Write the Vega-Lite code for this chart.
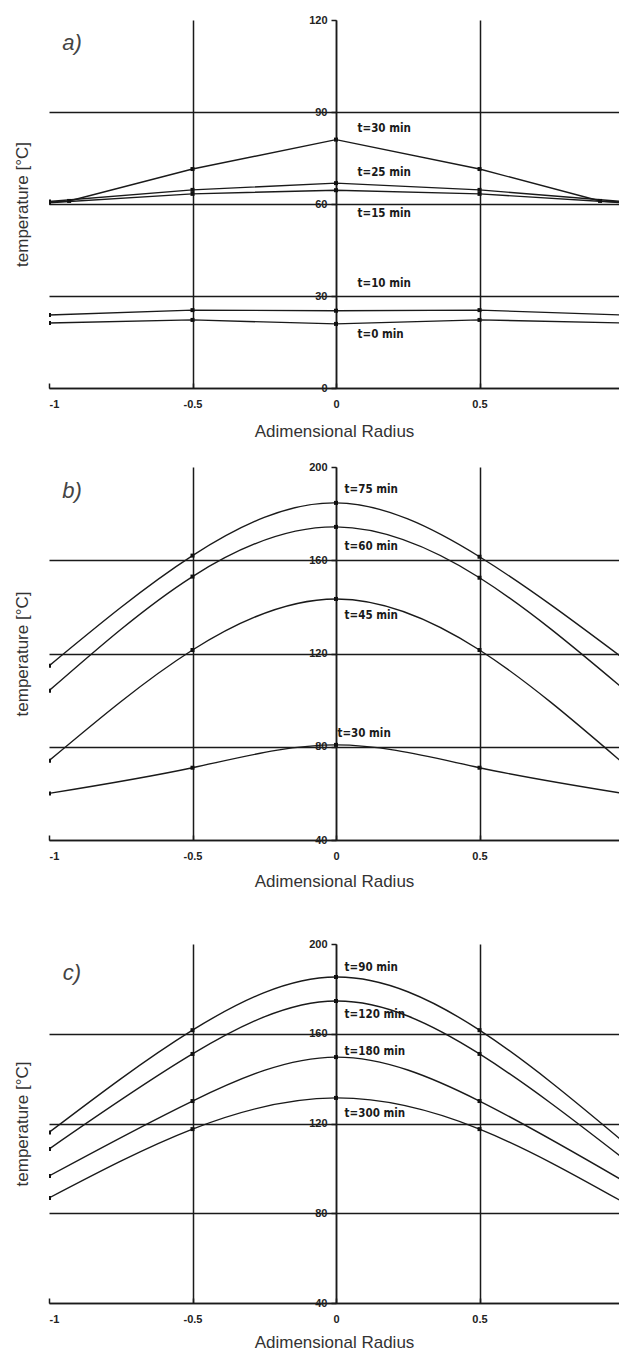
{
  "$schema": "https://vega.github.io/schema/vega-lite/v6.json",
  "background": "white",
  "padding": {"left": 13, "top": 14, "right": 0, "bottom": 0},
  "config": {
    "view": {"stroke": null},
    "font": "Liberation Sans",
    "axis": {
      "domainColor": "#1a1a1a",
      "domainWidth": 1.5,
      "gridColor": "#1a1a1a",
      "gridWidth": 1.5,
      "tickColor": "#1a1a1a",
      "tickWidth": 1.5,
      "labelFont": "Liberation Sans",
      "labelFontWeight": "bold",
      "labelFontSize": 11,
      "labelColor": "#222222",
      "titleFont": "Liberation Sans",
      "titleFontWeight": "normal",
      "titleFontSize": 17,
      "titleColor": "#333333"
    }
  },
  "datasets": {
    "profiles": [
      {"panel": "a", "time": 0, "r": -1, "temp": 21.2},
      {"panel": "a", "time": 0, "r": -0.5, "temp": 22.2},
      {"panel": "a", "time": 0, "r": 0, "temp": 20.9},
      {"panel": "a", "time": 0, "r": 0.5, "temp": 22.2},
      {"panel": "a", "time": 0, "r": 1, "temp": 21.2},
      {"panel": "a", "time": 10, "r": -1, "temp": 23.8},
      {"panel": "a", "time": 10, "r": -0.5, "temp": 25.4},
      {"panel": "a", "time": 10, "r": 0, "temp": 25.2},
      {"panel": "a", "time": 10, "r": 0.5, "temp": 25.4},
      {"panel": "a", "time": 10, "r": 1, "temp": 23.8},
      {"panel": "a", "time": 15, "r": -1, "temp": 60.4},
      {"panel": "a", "time": 15, "r": -0.5, "temp": 63.3},
      {"panel": "a", "time": 15, "r": 0, "temp": 64.5},
      {"panel": "a", "time": 15, "r": 0.5, "temp": 63.3},
      {"panel": "a", "time": 15, "r": 1, "temp": 60.4},
      {"panel": "a", "time": 25, "r": -1, "temp": 60.8},
      {"panel": "a", "time": 25, "r": -0.5, "temp": 64.6},
      {"panel": "a", "time": 25, "r": 0, "temp": 66.8},
      {"panel": "a", "time": 25, "r": 0.5, "temp": 64.6},
      {"panel": "a", "time": 25, "r": 1, "temp": 60.8},
      {"panel": "a", "time": 30, "r": -1, "temp": 60.6},
      {"panel": "a", "time": 30, "r": -0.93, "temp": 61},
      {"panel": "a", "time": 30, "r": -0.5, "temp": 71.4},
      {"panel": "a", "time": 30, "r": 0, "temp": 81},
      {"panel": "a", "time": 30, "r": 0.5, "temp": 71.4},
      {"panel": "a", "time": 30, "r": 0.92, "temp": 61},
      {"panel": "a", "time": 30, "r": 1, "temp": 60.6},

      {"panel": "b", "time": 30, "r": -1, "temp": 60},
      {"panel": "b", "time": 30, "r": -0.5, "temp": 71},
      {"panel": "b", "time": 30, "r": 0, "temp": 80.8},
      {"panel": "b", "time": 30, "r": 0.5, "temp": 71},
      {"panel": "b", "time": 30, "r": 1, "temp": 60},
      {"panel": "b", "time": 45, "r": -1, "temp": 74},
      {"panel": "b", "time": 45, "r": -0.5, "temp": 121.5},
      {"panel": "b", "time": 45, "r": 0, "temp": 143.4},
      {"panel": "b", "time": 45, "r": 0.5, "temp": 121.5},
      {"panel": "b", "time": 45, "r": 1, "temp": 73},
      {"panel": "b", "time": 60, "r": -1, "temp": 104},
      {"panel": "b", "time": 60, "r": -0.5, "temp": 153},
      {"panel": "b", "time": 60, "r": 0, "temp": 174.3},
      {"panel": "b", "time": 60, "r": 0.5, "temp": 152.5},
      {"panel": "b", "time": 60, "r": 1, "temp": 105},
      {"panel": "b", "time": 75, "r": -1, "temp": 114.7},
      {"panel": "b", "time": 75, "r": -0.5, "temp": 162},
      {"panel": "b", "time": 75, "r": 0, "temp": 184.6},
      {"panel": "b", "time": 75, "r": 0.5, "temp": 161.5},
      {"panel": "b", "time": 75, "r": 1, "temp": 118},

      {"panel": "c", "time": 90, "r": -1, "temp": 116},
      {"panel": "c", "time": 90, "r": -0.5, "temp": 161.6},
      {"panel": "c", "time": 90, "r": 0, "temp": 185.3},
      {"panel": "c", "time": 90, "r": 0.5, "temp": 161.6},
      {"panel": "c", "time": 90, "r": 1, "temp": 112},
      {"panel": "c", "time": 120, "r": -1, "temp": 108.6},
      {"panel": "c", "time": 120, "r": -0.5, "temp": 151},
      {"panel": "c", "time": 120, "r": 0, "temp": 174.6},
      {"panel": "c", "time": 120, "r": 0.5, "temp": 151},
      {"panel": "c", "time": 120, "r": 1, "temp": 104.5},
      {"panel": "c", "time": 180, "r": -1, "temp": 96.6},
      {"panel": "c", "time": 180, "r": -0.5, "temp": 130},
      {"panel": "c", "time": 180, "r": 0, "temp": 149.6},
      {"panel": "c", "time": 180, "r": 0.5, "temp": 130},
      {"panel": "c", "time": 180, "r": 1, "temp": 94.5},
      {"panel": "c", "time": 300, "r": -1, "temp": 86.8},
      {"panel": "c", "time": 300, "r": -0.5, "temp": 117.5},
      {"panel": "c", "time": 300, "r": 0, "temp": 131.4},
      {"panel": "c", "time": 300, "r": 0.5, "temp": 117.5},
      {"panel": "c", "time": 300, "r": 1, "temp": 85}
    ],
    "curveLabels": [
      {"panel": "a", "label": "t=30 min", "r": 0.075, "temp": 84.5},
      {"panel": "a", "label": "t=25 min", "r": 0.075, "temp": 70.1},
      {"panel": "a", "label": "t=15 min", "r": 0.075, "temp": 56.7},
      {"panel": "a", "label": "t=10 min", "r": 0.075, "temp": 33.9},
      {"panel": "a", "label": "t=0 min", "r": 0.075, "temp": 17.3},
      {"panel": "b", "label": "t=75 min", "r": 0.03, "temp": 190.1},
      {"panel": "b", "label": "t=60 min", "r": 0.03, "temp": 165.7},
      {"panel": "b", "label": "t=45 min", "r": 0.03, "temp": 136.1},
      {"panel": "b", "label": "t=30 min", "r": 0.005, "temp": 85.5},
      {"panel": "c", "label": "t=90 min", "r": 0.03, "temp": 189.3},
      {"panel": "c", "label": "t=120 min", "r": 0.03, "temp": 168.3},
      {"panel": "c", "label": "t=180 min", "r": 0.03, "temp": 151.9},
      {"panel": "c", "label": "t=300 min", "r": 0.03, "temp": 124.2}
    ],
    "panelTags": [
      {"panel": "a", "tag": "a)", "r": -0.92, "temp": 112.5},
      {"panel": "b", "tag": "b)", "r": -0.92, "temp": 189.7},
      {"panel": "c", "tag": "c)", "r": -0.92, "temp": 187}
    ]
  },
  "spacing": 49,
  "vconcat": [
    {
      "spacing": 22,
      "vconcat": [
        {
          "width": 570,
          "height": 368,
          "encoding": {
            "x": {"field": "r", "type": "quantitative",
              "scale": {"domain": [-1, 0.986], "nice": false, "zero": false},
              "axis": {"values": [-1, -0.5, 0, 0.5], "labelExpr": "'' + datum.value",
                "title": "Adimensional Radius", "grid": true,
                "gridOpacity": {"condition": {"test": "datum.value === -1", "value": 0}, "value": 1},
                "tickSize": -5, "labelPadding": 15, "titlePadding": 14}},
            "y": {"field": "temp", "type": "quantitative",
              "scale": {"domain": [0, 120], "nice": false, "zero": false},
              "axis": {"values": [0, 30, 60, 90, 120], "offset": -287,
                "title": "temperature [°C]", "titleX": -309, "titleBaseline": "alphabetic",
                "grid": true,
                "gridOpacity": {"condition": {"test": "datum.value === 120", "value": 0}, "value": 1},
                "tickSize": 5, "labelPadding": 4}}
          },
          "layer": [
            {"data": {"name": "profiles"}, "transform": [{"filter": "datum.panel === 'a'"}],
              "mark": {"type": "line", "interpolate": "linear", "clip": true, "color": "#1a1a1a", "strokeWidth": 1.4},
              "encoding": {"detail": {"field": "time", "type": "nominal"}}},
            {"data": {"name": "profiles"}, "transform": [{"filter": "datum.panel === 'a'"}],
              "mark": {"type": "point", "shape": "square", "filled": true, "size": 16, "color": "#111111", "opacity": 1, "clip": true}},
            {"data": {"name": "curveLabels"}, "transform": [{"filter": "datum.panel === 'a'"}],
              "mark": {"type": "text", "align": "left", "baseline": "middle", "font": "DejaVu Sans Condensed", "fontWeight": "bold", "fontSize": 11.5, "color": "#1a1a1a"},
              "encoding": {"text": {"field": "label"}}},
            {"data": {"name": "panelTags"}, "transform": [{"filter": "datum.panel === 'a'"}],
              "mark": {"type": "text", "align": "center", "baseline": "middle", "font": "Liberation Sans", "fontStyle": "italic", "fontSize": 22, "color": "#444444"},
              "encoding": {"text": {"field": "tag"}}}
          ]
        },
        {
          "width": 570,
          "height": 373,
          "encoding": {
            "x": {"field": "r", "type": "quantitative",
              "scale": {"domain": [-1, 0.986], "nice": false, "zero": false},
              "axis": {"values": [-1, -0.5, 0, 0.5], "labelExpr": "'' + datum.value",
                "title": "Adimensional Radius", "grid": true,
                "gridOpacity": {"condition": {"test": "datum.value === -1", "value": 0}, "value": 1},
                "tickSize": -5, "labelPadding": 15, "titlePadding": 12}},
            "y": {"field": "temp", "type": "quantitative",
              "scale": {"domain": [40, 200], "nice": false, "zero": false},
              "axis": {"values": [40, 80, 120, 160, 200], "offset": -287,
                "title": "temperature [°C]", "titleX": -309, "titleBaseline": "alphabetic",
                "grid": true,
                "gridOpacity": {"condition": {"test": "datum.value === 200", "value": 0}, "value": 1},
                "tickSize": 5, "labelPadding": 4}}
          },
          "layer": [
            {"data": {"name": "profiles"}, "transform": [{"filter": "datum.panel === 'b'"}],
              "mark": {"type": "line", "interpolate": "natural", "clip": true, "color": "#1a1a1a", "strokeWidth": 1.4},
              "encoding": {"detail": {"field": "time", "type": "nominal"}}},
            {"data": {"name": "profiles"}, "transform": [{"filter": "datum.panel === 'b'"}],
              "mark": {"type": "point", "shape": "square", "filled": true, "size": 16, "color": "#111111", "opacity": 1, "clip": true}},
            {"data": {"name": "curveLabels"}, "transform": [{"filter": "datum.panel === 'b'"}],
              "mark": {"type": "text", "align": "left", "baseline": "middle", "font": "DejaVu Sans Condensed", "fontWeight": "bold", "fontSize": 11.5, "color": "#1a1a1a"},
              "encoding": {"text": {"field": "label"}}},
            {"data": {"name": "panelTags"}, "transform": [{"filter": "datum.panel === 'b'"}],
              "mark": {"type": "text", "align": "center", "baseline": "middle", "font": "Liberation Sans", "fontStyle": "italic", "fontSize": 22, "color": "#444444"},
              "encoding": {"text": {"field": "tag"}}}
          ]
        }
      ]
    },
    {
      "width": 570,
      "height": 359,
      "encoding": {
        "x": {"field": "r", "type": "quantitative",
          "scale": {"domain": [-1, 0.986], "nice": false, "zero": false},
          "axis": {"values": [-1, -0.5, 0, 0.5], "labelExpr": "'' + datum.value",
            "title": "Adimensional Radius", "grid": true,
            "gridOpacity": {"condition": {"test": "datum.value === -1", "value": 0}, "value": 1},
            "tickSize": -5, "labelPadding": 15, "titlePadding": 10}},
        "y": {"field": "temp", "type": "quantitative",
          "scale": {"domain": [40, 200], "nice": false, "zero": false},
          "axis": {"values": [40, 80, 120, 160, 200], "offset": -287,
            "title": "temperature [°C]", "titleX": -309, "titleBaseline": "alphabetic",
            "grid": true,
            "gridOpacity": {"condition": {"test": "datum.value === 200", "value": 0}, "value": 1},
            "tickSize": 5, "labelPadding": 4}}
      },
      "layer": [
        {"data": {"name": "profiles"}, "transform": [{"filter": "datum.panel === 'c'"}],
          "mark": {"type": "line", "interpolate": "natural", "clip": true, "color": "#1a1a1a", "strokeWidth": 1.4},
          "encoding": {"detail": {"field": "time", "type": "nominal"}}},
        {"data": {"name": "profiles"}, "transform": [{"filter": "datum.panel === 'c'"}],
          "mark": {"type": "point", "shape": "square", "filled": true, "size": 16, "color": "#111111", "opacity": 1, "clip": true}},
        {"data": {"name": "curveLabels"}, "transform": [{"filter": "datum.panel === 'c'"}],
          "mark": {"type": "text", "align": "left", "baseline": "middle", "font": "DejaVu Sans Condensed", "fontWeight": "bold", "fontSize": 11.5, "color": "#1a1a1a"},
          "encoding": {"text": {"field": "label"}}},
        {"data": {"name": "panelTags"}, "transform": [{"filter": "datum.panel === 'c'"}],
          "mark": {"type": "text", "align": "center", "baseline": "middle", "font": "Liberation Sans", "fontStyle": "italic", "fontSize": 22, "color": "#444444"},
          "encoding": {"text": {"field": "tag"}}}
      ]
    }
  ]
}
